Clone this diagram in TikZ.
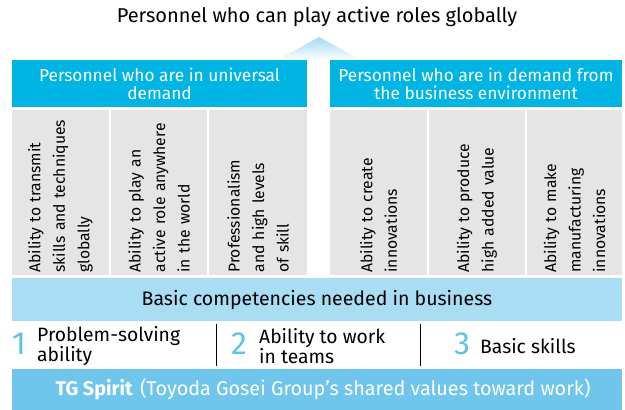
\documentclass[tikz,border=0pt]{standalone}
\usepackage{fontspec}
\setmainfont{Fira Sans}
\usetikzlibrary{calc}
\definecolor{hdrblue}{HTML}{00B4E4}
\definecolor{lightband}{HTML}{A8DDF4}
\definecolor{spiritblue}{HTML}{70C5EC}
\definecolor{colgray}{HTML}{E5E5E5}
\definecolor{numblue}{HTML}{5CC3EA}
\definecolor{tipblue}{HTML}{A3D9F1}
\tikzset{
  title/.style={font=\fontsize{20}{20}\selectfont},
  header/.style={fill=hdrblue, text=white, minimum height=47pt, inner sep=0pt,
    align=center, font=\fontsize{17.3}{18}\selectfont},
  skillcol/.style={fill=colgray, rotate=90, minimum width=165pt, inner xsep=2.5pt,
    inner ysep=0pt, text width=160pt, align=left, font=\fontsize{15.7}{24.5}\selectfont},
  band/.style={minimum width=610pt, inner sep=0pt, font=\fontsize{19.5}{20}\selectfont},
  num/.style={text=numblue, inner sep=0pt, font=\fontsize{32}{32}\selectfont},
  item/.style={anchor=west, inner sep=0pt, align=left, font=\fontsize{19.3}{17.5}\selectfont}
}

\begin{document}
\hyphenpenalty=10000
\begin{tikzpicture}[x=1pt,y=-1pt]
\useasboundingbox (0,0) rectangle (625,410);
\node[title] (top) at (317,17) {Personnel who can play active roles globally};
\coordinate (tip) at (319,37);
\shade[top color=tipblue, bottom color=white] (tip) -- (361,60) -- (277,60) -- cycle;
\node[header, minimum width=295pt] (univ) at (159.5,83.5) {Personnel who are in universal\\demand};
\node[header, minimum width=292pt] (bizenv) at (476,83.5) {Personnel who are in demand from\\the business environment};
% ability columns
\foreach \l/\r/\n/\t in {12/109/a/{Ability to transmit\\skills and techniques\\globally},
    111/207/b/{Ability to play an\\active role anywhere\\in the world},
    209/307/c/{Professionalism\\and high levels\\of skill},
    330/427/d/{Ability to create\\innovations},
    429/525/e/{Ability to produce\\high added value},
    527/622/f/{Ability to make\\manufacturing\\innovations}}
  \node[skillcol, minimum height={(\r-\l)*1pt}] (col\n) at ({(\l+\r)/2},192.5) {\t};
\node[band, fill=lightband, minimum height=43pt] (basic) at (317,299.5) {Basic competencies needed in business};
\node[num] (n1) at (19,344) {1};
\node[item] (i1) at (37,346) {Problem-solving\\ability};
\node[num] (n2) at (239,344) {2};
\node[item] (i2) at (259,346) {Ability to work\\in teams};
\node[num] (n3) at (462,344) {3};
\node[item] (i3) at (480,346) {Basic skills};
\draw (216.5,324) -- (216.5,366);
\draw (420.5,324) -- (420.5,366);
\node[band, fill=spiritblue, text=white, minimum height=41pt,
  font=\fontsize{19.8}{20}\selectfont] (spirit) at (317,389.5)
  {\hspace*{12pt}\textbf{TG Spirit}\hspace{7pt}(Toyoda Gosei Group’s shared values toward work)};
\end{tikzpicture}
\end{document}
